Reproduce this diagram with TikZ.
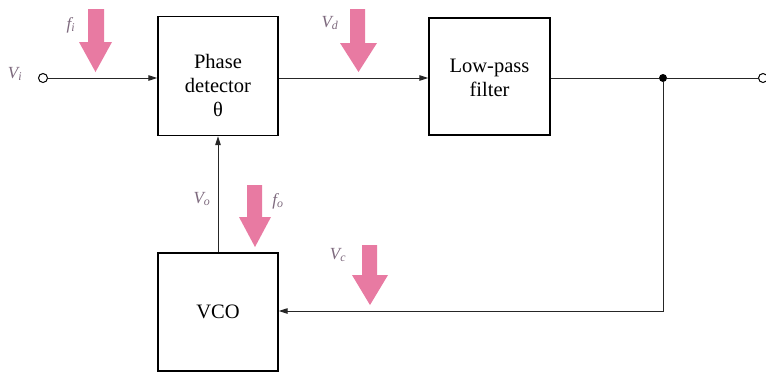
\documentclass[tikz,border=0pt]{standalone}
\usepackage{fontspec}
\setmainfont{Liberation Serif}
\usetikzlibrary{arrows.meta,calc}
\definecolor{pinkarr}{RGB}{232,122,162}
\definecolor{lblcol}{RGB}{125,105,125}
\tikzset{
  x=1pt, y=-1pt,
  blockbox/.style={draw=black, line width=1.4pt, minimum width=120pt, inner sep=0pt},
  blocktext/.style={font=\fontsize{20.5}{24}\selectfont, align=center, inner sep=0pt},
  sig/.style={line width=1pt, draw=black!85},
  sigarrow/.style={sig, -{Triangle[length=9pt,width=5.5pt]}},
  lbl/.style={font=\fontsize{17}{19}\selectfont\itshape, text=lblcol, inner sep=0pt},
  term/.style={circle, draw=black, line width=1pt, fill=white, minimum size=9pt, inner sep=0pt},
  dot/.style={circle, fill=black, minimum size=8pt, inner sep=0pt}
}
% pink arrow: shaft left, shaft right, top, head left, head right, head start, tip
\newcommand\pinkarrow[7]{%
  \fill[pinkarr] (#1,#3) -- (#2,#3) -- (#2,#6) -- (#5,#6) -- ({(#4+#5)/2},#7) -- (#4,#6) -- (#1,#6) -- cycle;}
\begin{document}
\begin{tikzpicture}
\useasboundingbox (0,0) rectangle (766,373);
% blocks
\node[blockbox, minimum height=119pt] (pd) at (218,76) {};
\node[blocktext] (pdt) at ($(pd.center)+(0,9)$) {Phase\\detector\\θ};
\node[blockbox, minimum height=117pt, minimum width=121pt] (lpf) at (489.5,76.5) {};
\node[blocktext] (lpft) at ($(lpf.center)+(0,1)$) {Low-pass\\filter};
\node[blockbox, minimum height=118pt] (vco) at (218,312) {};
\node[blocktext] (vcot) at (vco.center) {VCO};
% terminals and junction
\node[term] (vin) at (43,78) {};
\node[dot] (jn) at (663,78) {};
\node[term] (vout) at (763,78) {};
\coordinate (corner) at (663,311);
% connectors
\draw[sigarrow] (vin.east) -- (pd.west |- vin);
\draw[sigarrow] (pd.east |- vin) -- (lpf.west |- vin);
\draw[sig] (lpf.east |- jn) -- (jn) -- (vout.west);
\draw[sigarrow] (jn) -- (corner) -- (vco.east |- corner);
\draw[sigarrow] (vco.north) -- (pd.south);
% pink arrows
\pinkarrow{88}{104}{9}{79}{112}{42}{72}
\pinkarrow{350}{365}{9}{340}{377}{43}{72}
\pinkarrow{247}{262}{185}{239}{271}{217}{247}
\pinkarrow{362}{377}{245}{352}{388}{275}{305}
% labels
\node[lbl] (lvi) at (15,74) {V\textsubscript{i}};
\node[lbl] (lfi) at (71,25) {f\textsubscript{i}};
\node[lbl] (lvd) at (330,23) {V\textsubscript{d}};
\node[lbl] (lvo) at (202,199) {V\textsubscript{o}};
\node[lbl] (lfo) at (278,201) {f\textsubscript{o}};
\node[lbl] (lvc) at (338,255) {V\textsubscript{c}};
\end{tikzpicture}
\end{document}
